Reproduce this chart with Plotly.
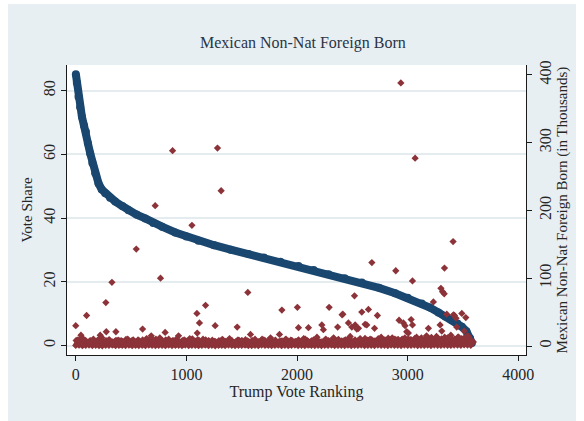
import plotly.graph_objects as go

# Trump vote share (%) by county vote ranking
share_rank = [1, 10, 25, 40, 56, 75, 92, 110, 131, 150, 176, 206, 235, 266, 310, 357,
              420, 477, 550, 628, 700, 780, 900, 1000, 1109, 1250, 1400, 1561, 1700,
              1850, 2013, 2150, 2284, 2430, 2585, 2740, 2886, 3000, 3127, 3200, 3277,
              3340, 3398, 3450, 3489, 3530, 3564, 3580]
share_value = [85.2, 82.5, 78.1, 74.8, 71.8, 69.0, 67.1, 63.5, 60.3, 57.3, 54.1, 50.9,
               49.0, 47.8, 46.4, 45.2, 43.8, 42.5, 41.1, 39.9, 38.5, 37.3, 35.5, 34.2,
               32.9, 31.5, 30.1, 28.7, 27.6, 26.3, 25.0, 23.7, 22.4, 21.1, 19.8, 18.1,
               16.4, 15.0, 13.2, 11.9, 10.4, 9.1, 8.0, 6.9, 5.9, 4.5, 2.3, 0.8]

# Mexican non-naturalized foreign born (thousands): the dense low band
band_rank_a = list(range(0, 3600, 30))
band_value_a = [float(v) for v in """
0.8 1.2 0.5 0.9 1.4 0.6 1.1 0.7 0.3 1.0 0.9 1.3 0.4 0.8 1.1 0.6 1.2 0.5 0.9 0.7
1.0 0.4 1.3 0.8 0.6 1.1 0.9 0.5 1.2 0.7 0.8 1.0 0.4 1.3 0.6 0.9 1.1 0.5 0.8 1.2
0.7 1.0 0.3 0.9 1.1 0.6 1.4 0.8 0.5 1.0 0.9 1.2 0.6 0.7 1.1 0.4 1.3 0.8 1.0 0.6
0.9 1.2 0.5 1.1 0.7 0.8 1.3 0.6 1.0 0.4 1.2 0.9 0.7 1.1 0.5 1.0 0.8 1.3 0.6 0.9
1.1 0.7 1.2 0.5 1.0 0.8 1.4 0.6 0.9 1.1 0.7 1.3 0.8 1.0 0.6 1.2 0.9 1.1 0.7 1.4
0.8 1.0 1.3 0.6 1.1 0.9 1.2 0.7 1.5 1.0 0.8 1.3 1.1 0.9 1.4 1.2 1.0 1.6 1.3 1.1
""".split()]

band_rank_b = list(range(15, 3600, 30))
band_value_b = [float(v) for v in """
4.5 6.8 3.2 5.5 7.0 4.1 2.8 5.9 3.6 4.8 6.2 3.0 5.1 2.6 4.4 6.5 3.8 5.3 2.9 4.7
6.1 3.4 5.6 4.0 2.7 6.6 3.9 5.0 3.1 4.6 6.9 3.5 2.5 5.4 4.2 6.3 3.3 4.9 5.8 2.8
4.3 6.0 3.7 5.2 2.9 4.5 6.7 3.6 4.1 5.7 3.0 6.4 4.4 2.7 5.0 3.8 6.2 4.9 3.2 5.5
4.0 6.8 3.5 5.1 2.6 4.7 6.1 3.9 5.6 4.2 3.1 6.5 4.8 3.4 5.9 4.3 6.9 3.7 5.3 4.6
6.0 3.3 5.7 4.1 6.6 4.9 3.6 6.2 5.0 4.4 6.8 3.9 5.5 6.3 4.5 5.8 7.2 4.8 6.1 5.4
6.9 4.3 7.5 5.6 6.4 7.8 5.1 6.7 8.0 5.9 7.1 6.2 8.4 6.6 7.4 5.8 8.1 6.9 7.6 5.2
""".split()]

band_rank_c = list(range(8, 3600, 30))
band_value_c = [float(v) for v in """
2.6 3.1 2.2 3.8 2.9 2.4 3.5 2.0 3.3 2.7 3.9 2.3 3.0 3.6 2.5 3.2 2.1 3.7 2.8 3.4
2.4 3.9 2.6 3.1 2.0 3.5 2.9 2.2 3.8 3.0 2.5 3.3 2.7 3.6 2.1 3.2 2.8 3.9 2.3 3.4
3.0 2.6 3.7 2.2 3.1 2.9 3.5 2.4 3.8 2.7 3.3 2.0 3.6 2.8 3.2 2.5 3.9 2.3 3.0 3.4
2.7 3.6 2.1 3.3 2.9 3.8 2.4 3.1 2.6 3.5 2.2 3.7 3.0 2.8 3.4 2.5 3.9 2.3 3.2 3.6
2.9 3.3 2.6 3.8 3.1 2.7 3.5 2.4 3.9 3.0 3.4 2.8 3.7 3.2 2.9 3.6 3.3 4.0 3.1 3.8
3.5 3.0 4.1 3.4 3.7 4.3 3.2 3.9 4.5 3.6 4.2 3.8 4.6 3.5 4.4 4.0 4.8 3.7 4.2 3.3
""".split()]

band_rank_d = list(range(23, 3600, 30))
band_value_d = [float(v) for v in """
6.2 4.8 8.5 5.6 7.1 5.0 9.2 6.4 4.6 7.8 5.3 6.9 8.8 5.1 6.0 4.7 7.4 5.8 9.0 6.5
5.2 7.6 4.9 6.3 8.1 5.5 7.0 4.5 6.7 5.9 8.4 6.1 4.8 7.3 5.4 6.6 9.4 5.0 7.7 6.2
4.6 6.8 5.7 8.0 5.1 7.2 6.0 4.9 8.7 5.6 6.4 7.5 5.3 6.9 4.7 7.9 6.1 5.5 8.3 6.6
5.0 7.1 6.3 4.8 8.6 5.8 7.4 6.0 5.2 7.8 6.5 4.9 8.1 5.7 6.8 7.3 5.4 9.1 6.2 5.9
7.6 5.1 8.4 6.7 5.6 7.9 6.3 8.8 5.8 7.2 6.9 9.5 6.1 7.7 8.3 6.4 9.0 7.1 8.6 6.8
9.3 7.4 8.0 10.2 7.0 8.7 9.6 7.8 10.5 8.2 9.1 7.5 10.8 8.5 9.7 8.1 11.0 9.4 8.8 6.0
""".split()]

band_rank_e = list(range(4, 3600, 30))
band_value_e = [float(v) for v in """
8.1 6.5 9.8 7.2 5.9 8.8 7.0 10.4 6.3 7.9 9.1 6.0 8.4 7.5 6.8 9.6 7.1 8.2 6.4 7.7
9.0 6.6 8.5 7.3 10.1 6.2 7.8 8.9 6.9 7.4 9.4 6.1 8.0 7.6 6.7 10.6 7.2 8.3 6.5 9.2
7.0 8.6 6.3 7.9 9.7 6.8 8.1 7.4 6.0 8.8 7.6 9.3 6.6 8.2 7.1 6.4 10.0 7.7 8.4 6.9
8.7 6.2 7.5 9.5 7.0 8.0 6.7 8.9 7.3 10.3 6.5 7.8 8.6 7.2 6.1 9.1 7.9 8.3 6.8 9.8
7.4 8.5 10.2 7.1 9.0 8.2 7.7 11.1 8.4 9.4 7.6 10.7 8.8 9.2 11.5 8.0 10.1 9.6 8.7 11.8
10.4 9.0 11.2 8.6 12.0 9.9 10.8 12.6 9.3 11.4 10.5 12.9 9.7 11.7 10.2 13.1 11.0 10.6 9.4 5.5
""".split()]

# scattered counties above the band
scatter_rank = [20, 57, 130, 160, 237, 300, 410, 470, 520, 640, 700, 760, 840, 880,
                980, 1030, 1150, 1200, 1330, 1390, 1500, 1620, 1700, 1760, 1900, 1950,
                2060, 2150, 2180, 2260, 2330, 2440, 2480, 2570, 2660, 2760, 2820, 2860,
                2950, 3080, 3120, 3170, 3220, 3260, 3360, 3390, 3460, 3500, 3550, 3575,
                0, 47, 98, 221, 272, 276, 327, 363, 547, 604, 682, 718, 766, 808, 875,
                929, 1050, 1095, 1098, 1118, 1173, 1260, 1281, 1314, 1459, 1555, 1579,
                1841, 1863, 2003, 2013, 2103, 2224, 2238, 2290, 2367, 2407, 2414, 2464,
                2495, 2519, 2525, 2540, 2555, 2585, 2615, 2630, 2645, 2676, 2700, 2726,
                2892, 2922, 2938, 2961, 2976, 2991, 3006, 3031, 3043, 3043, 3067, 3187,
                3232, 3293, 3300, 3308, 3315, 3330, 3332, 3353, 3410, 3413, 3422, 3437,
                3443, 3489, 3510, 3525, 3540]
scatter_value = [9, 12, 8, 10, 12, 9, 8, 10, 9, 11, 9, 12, 10, 8,
                 9, 11, 10, 8, 9, 11, 8, 10, 9, 12, 10, 8,
                 11, 9, 13, 10, 12, 9, 14, 11, 10, 13, 9, 12,
                 10, 13, 9, 15, 11, 14, 12, 16, 13, 10, 14, 8,
                 30, 16, 45, 16, 64, 21, 94, 21, 143, 25, 15, 207, 100, 20, 288,
                 15, 178, 48, 19, 34, 60, 30, 292, 229, 28, 79, 17,
                 17, 53, 57, 27, 27, 31, 24, 57, 28, 46, 47, 34,
                 28, 74, 31, 25, 26, 50, 32, 31, 54, 123, 26, 45,
                 111, 38, 388, 34, 30, 21, 19, 39, 96, 31, 277, 26,
                 65, 31, 85, 22, 80, 77, 115, 47, 154, 46, 45, 41,
                 28, 48, 22, 42, 15]

# axis ticks
x_ticks = [0, 1000, 2000, 3000, 4000]
share_ticks = [0, 20, 40, 60, 80]
born_ticks = [0, 100, 200, 300, 400]

NAVY = "#1a476f"
MAROON = "#8c3339"
SERIF = "Liberation Serif"
INK = "#262626"
BG = "#e8eff2"

fig = go.Figure()

fig.add_trace(go.Scatter(
    x=share_rank, y=share_value, mode="lines+markers",
    line=dict(color=NAVY, width=8),
    marker=dict(color=NAVY, size=8, symbol="circle"),
    hoverinfo="skip", showlegend=False,
))

for xs, ys in ((band_rank_a, band_value_a),
               (band_rank_c, band_value_c),
               (band_rank_b, band_value_b),
               (band_rank_d, band_value_d),
               (band_rank_e, band_value_e),
               (scatter_rank, scatter_value)):
    fig.add_trace(go.Scatter(
        x=xs, y=ys, yaxis="y2", mode="markers",
        marker=dict(color=MAROON, size=5.6, symbol="diamond", line=dict(width=0)),
        hoverinfo="skip", showlegend=False,
    ))

axis_common = dict(
    ticks="outside", ticklen=5, tickwidth=1, tickcolor="#1a1a1a",
    showline=True, linecolor="#1a1a1a", linewidth=1.2,
    zeroline=False,
    tickfont=dict(family=SERIF, size=16, color=INK),
)

fig.update_layout(
    width=584, height=421,
    margin=dict(l=67, r=58, t=65, b=66),
    paper_bgcolor="white",
    plot_bgcolor="white",
    font=dict(family=SERIF, color=INK),
    xaxis=dict(
        range=[-79, 4069], tickmode="array", tickvals=x_ticks,
        showgrid=False,
        title=dict(text="Trump Vote Ranking", standoff=2,
                   font=dict(family=SERIF, size=16, color=INK)),
        **axis_common,
    ),
    yaxis=dict(
        range=[-2.98, 88.07], tickmode="array", tickvals=share_ticks,
        tickangle=-90, showgrid=True, gridcolor="#e4ecef", gridwidth=1.5,
        title=dict(text="Vote Share", standoff=4,
                   font=dict(family=SERIF, size=15, color=INK)),
        **axis_common,
    ),
    yaxis2=dict(
        range=[-13.27, 414.45], tickmode="array", tickvals=born_ticks,
        tickangle=-90, overlaying="y", side="right", showgrid=False,
        title=dict(text="Mexican Non-Nat Foreign Born (in Thousands)", standoff=3,
                   font=dict(family=SERIF, size=15, color=INK)),
        **axis_common,
    ),
    shapes=[
        dict(type="rect", xref="paper", yref="paper", layer="below",
             x0=-0.1285, x1=1.109, y0=-0.25, y1=1.2103,
             fillcolor=BG, line=dict(width=0)),
        dict(type="rect", xref="paper", yref="paper", layer="below",
             x0=0, x1=1, y0=0, y1=1,
             fillcolor="white", line=dict(width=0)),
    ],
    annotations=[
        dict(text="Mexican Non-Nat Foreign Born", xref="paper", yref="paper",
             x=0.514, y=1.0759, xanchor="center", yanchor="middle",
             showarrow=False,
             font=dict(family=SERIF, size=16, color="#2a3445")),
    ],
)

fig.write_html("out.html")
